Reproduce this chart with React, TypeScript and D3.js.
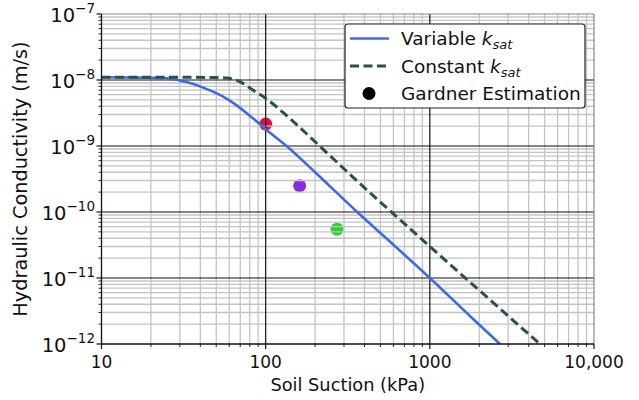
import React from 'react';
import * as d3 from 'd3';

const suctionVariable = [10, 15, 20, 26, 33, 42, 53, 66, 84, 100, 134, 200, 361, 500, 1000, 1800, 2673];
const kVariable = [1.1e-8, 1.09e-8, 1.08e-8, 1.05e-8, 9.3e-9, 7.6e-9, 5.9e-9, 4.2e-9, 2.6e-9, 1.8e-9, 1e-9, 4e-10, 1e-10, 4.8e-11, 1e-11, 2.5e-12, 1e-12];

const suctionConstant = [10, 30, 50, 58, 70, 84, 100, 128, 158, 250, 372, 600, 1000, 2000, 4680];
const kConstant = [1.1e-8, 1.1e-8, 1.09e-8, 1.07e-8, 9.4e-9, 7e-9, 5.3e-9, 3.2e-9, 2e-9, 6.9e-10, 2.75e-10, 9.4e-11, 3e-11, 6.5e-12, 1e-12];

const gardnerSuction = [100, 161, 272];
const gardnerK = [2.15e-9, 2.5e-10, 5.5e-11];
const gardnerColors = ['#dc143c', '#8a2be2', '#32cd32'];

const xTickValues = [10, 100, 1000, 10000];
const xTickLabels = ['10', '100', '1000', '10,000'];
const yTickExponents = [-7, -8, -9, -10, -11, -12];

const W = 639;
const H = 400;
const L = 101.5, R = 594, T = 14, B = 344;
const FONT = '"DejaVu Sans", Verdana, sans-serif';

export default function App() {
  const x = d3.scaleLog().domain([10, 10000]).range([L, R]);
  const y = d3.scaleLog().domain([1e-12, 1e-7]).range([B, T]);

  const xMinor: number[] = [];
  for (let e = 1; e < 4; e++) for (let k = 2; k <= 9; k++) xMinor.push(k * Math.pow(10, e));
  const yMinor: number[] = [];
  for (let e = -12; e < -7; e++) for (let k = 2; k <= 9; k++) yMinor.push(k * Math.pow(10, e));

  const line = d3.line<[number, number]>()
    .x(d => x(d[0]))
    .y(d => y(d[1]))
    .curve(d3.curveMonotoneX);

  const varPath = line(suctionVariable.map((s, i) => [s, kVariable[i]] as [number, number])) || '';
  const conPath = line(suctionConstant.map((s, i) => [s, kConstant[i]] as [number, number])) || '';

  const minorColor = '#c4c4c4';
  const majorColor = '#111';

  const lgX = 345, lgY = 24, lgW = 240, lgH = 84;
  const rows = [38.5, 66, 93.5];

  return (
    <svg width={W} height={H} style={{ position: 'absolute', left: 0, top: 0 }} fontFamily={FONT}>
      <rect x={0} y={0} width={W} height={H} fill="#fff" />
      <defs>
        <clipPath id="plotclip">
          <rect x={L} y={T} width={R - L} height={B - T} />
        </clipPath>
      </defs>

      {gardnerSuction.map((s, i) => (
        <circle key={'g' + i} cx={x(s)} cy={y(gardnerK[i])} r={6.5} fill={gardnerColors[i]} />
      ))}

      {xMinor.map((v, i) => (
        <line key={'xm' + i} x1={x(v)} x2={x(v)} y1={T} y2={B} stroke={minorColor} strokeWidth={1.3} />
      ))}
      {yMinor.map((v, i) => (
        <line key={'ym' + i} x1={L} x2={R} y1={y(v)} y2={y(v)} stroke={minorColor} strokeWidth={1.3} />
      ))}
      {[100, 1000].map((v, i) => (
        <line key={'xM' + i} x1={x(v)} x2={x(v)} y1={T} y2={B} stroke={majorColor} strokeWidth={1.2} />
      ))}
      {[-8, -9, -10, -11].map((e, i) => (
        <line key={'yM' + i} x1={L} x2={R} y1={y(Math.pow(10, e))} y2={y(Math.pow(10, e))} stroke={majorColor} strokeWidth={1.2} />
      ))}

      <g clipPath="url(#plotclip)">
        <path d={varPath} fill="none" stroke="#4169e1" strokeWidth={2.6} />
        <path d={conPath} fill="none" stroke="#2f4f4f" strokeWidth={3} strokeDasharray="9,4.5" />
      </g>

      <line x1={L} x2={R} y1={T} y2={T} stroke="#888" strokeWidth={1.2} />
      <line x1={R} x2={R} y1={T} y2={B} stroke="#888" strokeWidth={1.2} />
      <line x1={L} x2={L} y1={T} y2={B} stroke="#111" strokeWidth={1.3} />
      <line x1={L} x2={R} y1={B} y2={B} stroke="#111" strokeWidth={1.3} />

      {xTickValues.map((v, i) => (
        <g key={'xt' + i}>
          <line x1={x(v)} x2={x(v)} y1={B} y2={B + 5} stroke="#111" strokeWidth={1.2} />
          <text x={x(v)} y={368} textAnchor="middle" fontSize={17} fill="#111">{xTickLabels[i]}</text>
        </g>
      ))}
      {xMinor.map((v, i) => (
        <line key={'xmt' + i} x1={x(v)} x2={x(v)} y1={B} y2={B + 3} stroke="#111" strokeWidth={0.9} />
      ))}

      {yTickExponents.map((e, i) => {
        const yy = y(Math.pow(10, e));
        return (
          <g key={'yt' + i}>
            <line x1={L - 5} x2={L} y1={yy} y2={yy} stroke="#111" strokeWidth={1.2} />
            <text x={95} y={yy + 8} textAnchor="end" fontSize={19.5} fill="#111">
              10<tspan fontSize={13.5} dy={-9}>{'\u2212' + Math.abs(e)}</tspan>
            </text>
          </g>
        );
      })}
      {yMinor.map((v, i) => (
        <line key={'ymt' + i} x1={L - 3} x2={L} y1={y(v)} y2={y(v)} stroke="#111" strokeWidth={0.9} />
      ))}

      <text x={(L + R) / 2} y={391} textAnchor="middle" fontSize={17.8} fill="#111">Soil Suction (kPa)</text>
      <text transform={`translate(27,${(T + B) / 2}) rotate(-90)`} textAnchor="middle" fontSize={19.3} fill="#111">
        Hydraulic Conductivity (m/s)
      </text>

      <rect x={lgX} y={lgY} width={lgW} height={lgH} rx={3} ry={3} fill="#fff" stroke="#222" strokeWidth={1.2} />
      <line x1={350} x2={389} y1={rows[0]} y2={rows[0]} stroke="#4169e1" strokeWidth={2.6} />
      <line x1={350} x2={389} y1={rows[1]} y2={rows[1]} stroke="#2f4f4f" strokeWidth={3} strokeDasharray="9,4.5" />
      <circle cx={369} cy={rows[2]} r={6.5} fill="#000" />
      <text x={401} y={rows[0] + 6.5} fontSize={18.5} fill="#111">
        Variable <tspan fontStyle="italic">k</tspan><tspan fontStyle="italic" fontSize={13} dy={4}>sat</tspan>
      </text>
      <text x={401} y={rows[1] + 6.5} fontSize={18.5} fill="#111">
        Constant <tspan fontStyle="italic">k</tspan><tspan fontStyle="italic" fontSize={13} dy={4}>sat</tspan>
      </text>
      <text x={401} y={rows[2] + 6.5} fontSize={18.5} fill="#111">Gardner Estimation</text>
    </svg>
  );
}
